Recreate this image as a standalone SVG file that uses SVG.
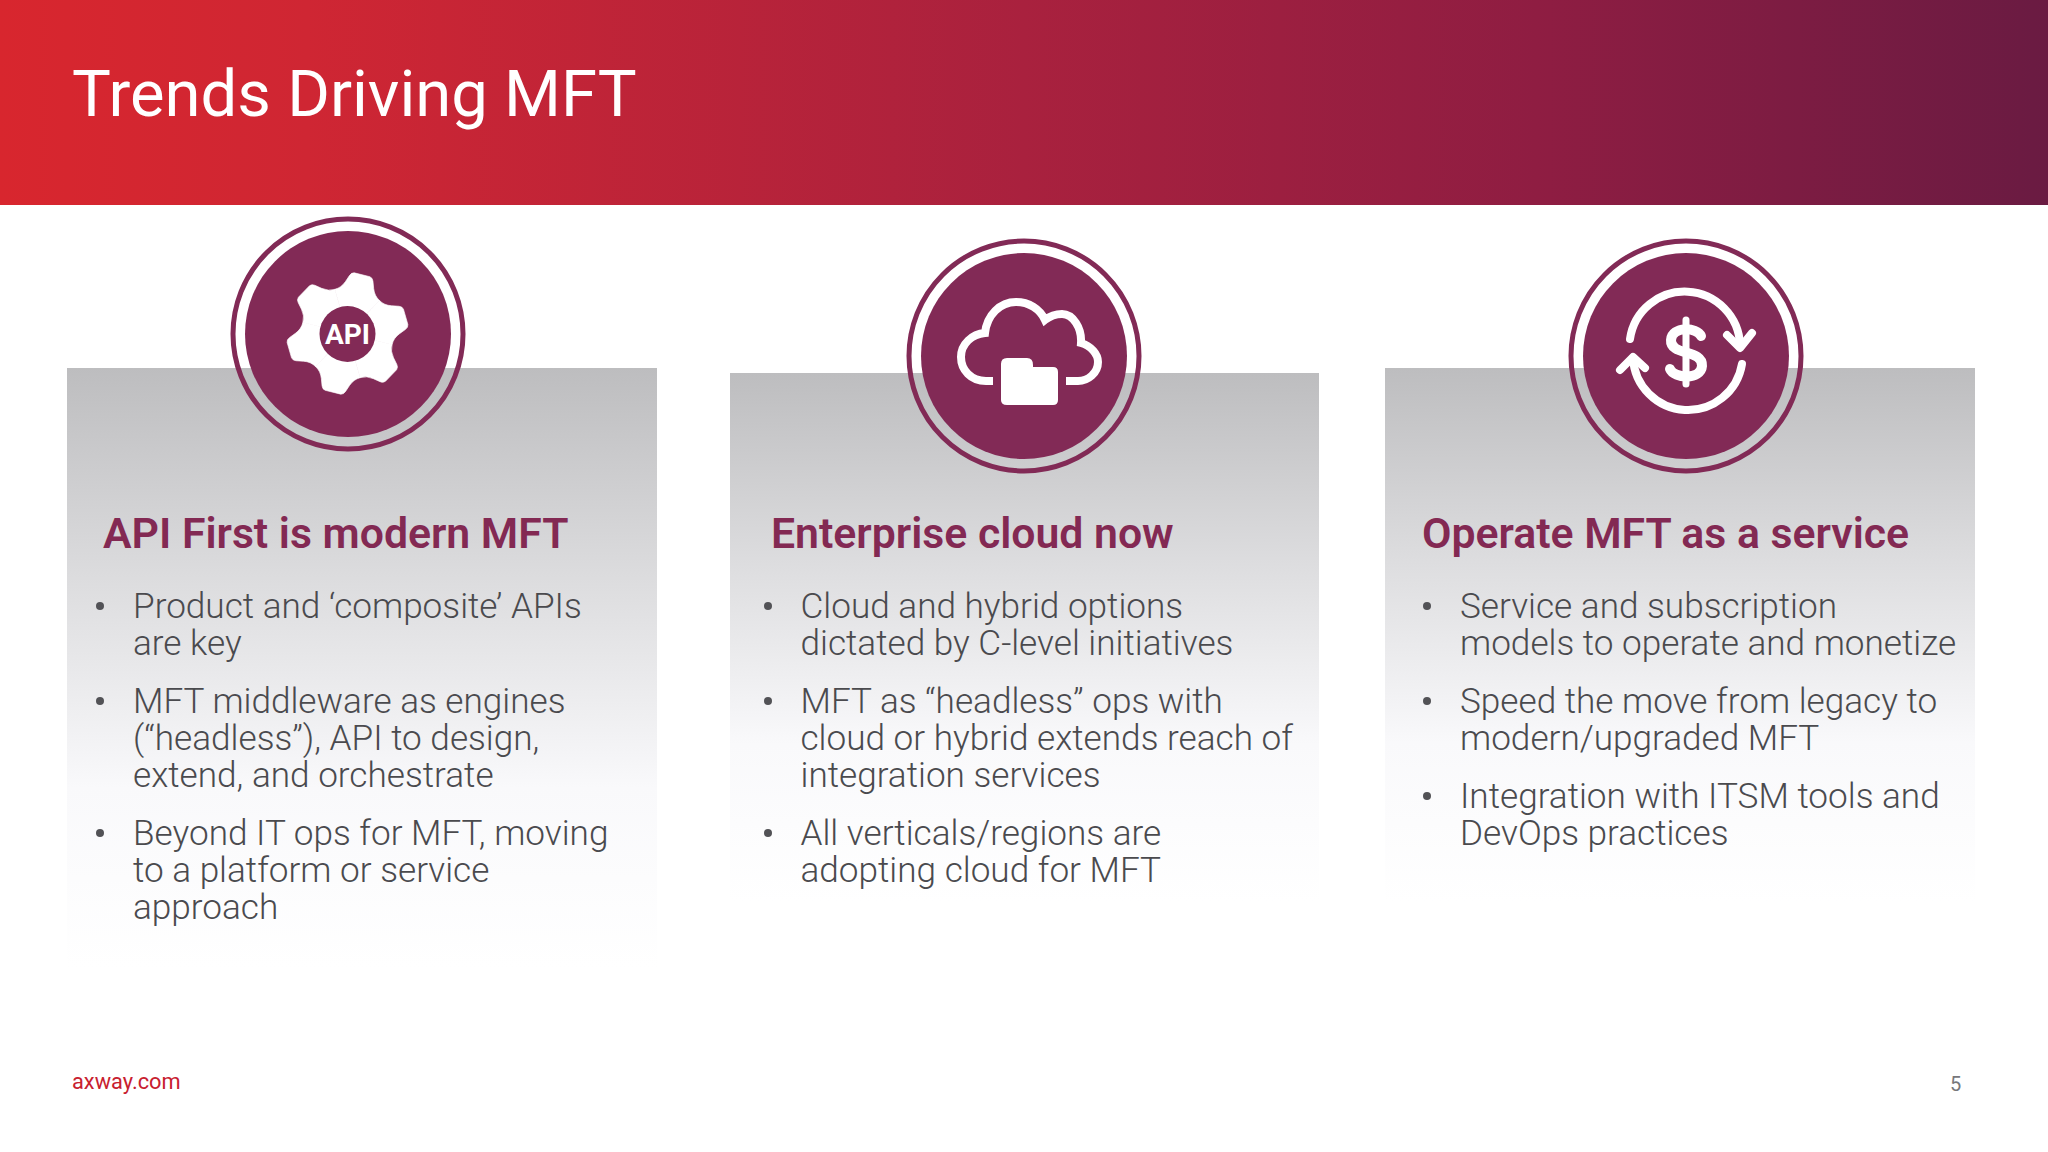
<svg xmlns="http://www.w3.org/2000/svg" width="2048" height="1152" viewBox="0 0 2048 1152">
<defs>
<linearGradient id="hdr" x1="0" x2="1" y1="0" y2="0"><stop offset="0" stop-color="#d8262e"/><stop offset="0.15" stop-color="#cf2633"/><stop offset="0.5" stop-color="#a9213e"/><stop offset="0.75" stop-color="#8f1d42"/><stop offset="1" stop-color="#6a1b42"/></linearGradient>
<linearGradient id="pan" x1="0" x2="0" y1="0" y2="1"><stop offset="0" stop-color="#bdbdbf"/><stop offset="0.35" stop-color="#dcdcde"/><stop offset="0.7" stop-color="#f9f9fb"/><stop offset="1" stop-color="#ffffff"/></linearGradient>
<g id="badge"><circle r="115" fill="none" stroke="#822a56" stroke-width="5"/><circle r="103" fill="#822a56"/></g>
<path id="tooth" fill="#fff" stroke="#fff" stroke-width="0.6" d="M0 0 L-23 -39.8 Q-17 -43 -14.5 -50 L-12 -57 Q-11 -60 -8 -60.5 L8 -60.5 Q11 -60 12 -57 L14.5 -50 Q17 -43 23 -39.8 Z"/>
</defs>
<style>
text{font-family:Roboto,"Liberation Sans",sans-serif}
.b{font-size:35.15px;font-weight:300;fill:#4a4a4e}
.h{font-size:42.75px;font-weight:600;fill:#832953}
.s{fill:none;stroke:#fff;stroke-width:8;stroke-linecap:round;stroke-linejoin:round}
.dot{fill:#525256}
</style>
<rect width="2048" height="1152" fill="#fff"/>
<rect id="header" width="2048" height="205" fill="url(#hdr)"/>
<text x="72" y="116" font-size="65.2" font-weight="400" fill="#fff">Trends Driving MFT</text>
<rect x="67" y="368" width="590" height="600" fill="url(#pan)"/>
<rect x="730" y="373" width="589" height="530" fill="url(#pan)"/>
<rect x="1385" y="368" width="590" height="535" fill="url(#pan)"/>

<g id="node-api">
<use href="#badge" x="348" y="334"/>
<g transform="translate(347.5 333.5)">
<use href="#tooth" transform="rotate(14)"/>
<use href="#tooth" transform="rotate(74)"/>
<use href="#tooth" transform="rotate(134)"/>
<use href="#tooth" transform="rotate(194)"/>
<use href="#tooth" transform="rotate(254)"/>
<use href="#tooth" transform="rotate(314)"/>
</g>
<circle cx="347.5" cy="334" r="28" fill="#822a56"/>
<text x="347.5" y="343.5" font-size="28" font-weight="700" fill="#fff" text-anchor="middle">API</text>
</g>

<g id="node-cloud">
<use href="#badge" x="1024" y="356"/>
<path d="M993 381 H986 C971 381 961 370 961 357 C961 344 972 334 985 333 C987 315 1000 302 1016 302 C1029 302 1040 309 1045 320 C1050 316 1056 314 1062 314 C1073 314 1082 328 1081 343 C1091 346 1098 354 1098 362 C1098 373 1088 381 1078 381 H1066" fill="none" stroke="#fff" stroke-width="8"/>
<path fill="#fff" d="M1007 358 H1027 Q1033 358 1033 365 V367 H1053 Q1058 367 1058 372 V400 Q1058 405 1053 405 H1007 Q1001 405 1001 400 V364 Q1001 358 1007 358 Z"/>
</g>

<g id="node-dollar">
<use href="#badge" x="1686" y="356"/>
<path class="s" d="M1630 339 A55.3 55.3 0 0 1 1740 345"/>
<path class="s" d="M1742 364 A54.9 54.9 0 0 1 1633 358"/>
<path class="s" d="M1727 335 L1740 348 L1752 333"/>
<path class="s" d="M1620 370 L1633 357 L1645 368"/>
<path class="s" style="stroke-width:7" d="M1686 320 V384"/>
<path d="M1701 336 C1697 327 1672 326 1671 340 C1670 356 1703 349 1702 366 C1701 380 1674 379 1670 369" fill="none" stroke="#fff" stroke-width="10" stroke-linecap="round"/>
</g>

<g id="col1">
<text class="h" x="103" y="548">API First is modern MFT</text>
<circle class="dot" cx="100" cy="606" r="4"/>
<text class="b" x="133" y="618">Product and ‘composite’ APIs</text>
<text class="b" x="133" y="655">are key</text>
<circle class="dot" cx="100" cy="701" r="4"/>
<text class="b" x="133" y="713">MFT middleware as engines</text>
<text class="b" x="133" y="750">(“headless”), API to design,</text>
<text class="b" x="133" y="787">extend, and orchestrate</text>
<circle class="dot" cx="100" cy="833" r="4"/>
<text class="b" x="133" y="845">Beyond IT ops for MFT, moving</text>
<text class="b" x="133" y="882">to a platform or service</text>
<text class="b" x="133" y="919">approach</text>
</g>
<g id="col2">
<text class="h" x="771" y="548">Enterprise cloud now</text>
<circle class="dot" cx="768" cy="606" r="4"/>
<text class="b" x="800.5" y="618">Cloud and hybrid options</text>
<text class="b" x="800.5" y="655">dictated by C-level initiatives</text>
<circle class="dot" cx="768" cy="701" r="4"/>
<text class="b" x="800.5" y="713">MFT as “headless” ops with</text>
<text class="b" x="800.5" y="750">cloud or hybrid extends reach of</text>
<text class="b" x="800.5" y="787">integration services</text>
<circle class="dot" cx="768" cy="833" r="4"/>
<text class="b" x="800.5" y="845">All verticals/regions are</text>
<text class="b" x="800.5" y="882">adopting cloud for MFT</text>
</g>
<g id="col3">
<text class="h" x="1422" y="548">Operate MFT as a service</text>
<circle class="dot" cx="1427" cy="606" r="4"/>
<text class="b" x="1460" y="618">Service and subscription</text>
<text class="b" x="1460" y="655">models to operate and monetize</text>
<circle class="dot" cx="1427" cy="701" r="4"/>
<text class="b" x="1460" y="713">Speed the move from legacy to</text>
<text class="b" x="1460" y="750">modern/upgraded MFT</text>
<circle class="dot" cx="1427" cy="796" r="4"/>
<text class="b" x="1460" y="808">Integration with ITSM tools and</text>
<text class="b" x="1460" y="845">DevOps practices</text>
</g>
<text x="72" y="1089" font-size="21.8" fill="#c8202f">axway.com</text>
<text x="1950" y="1091" font-size="20" fill="#77777b">5</text>
</svg>
